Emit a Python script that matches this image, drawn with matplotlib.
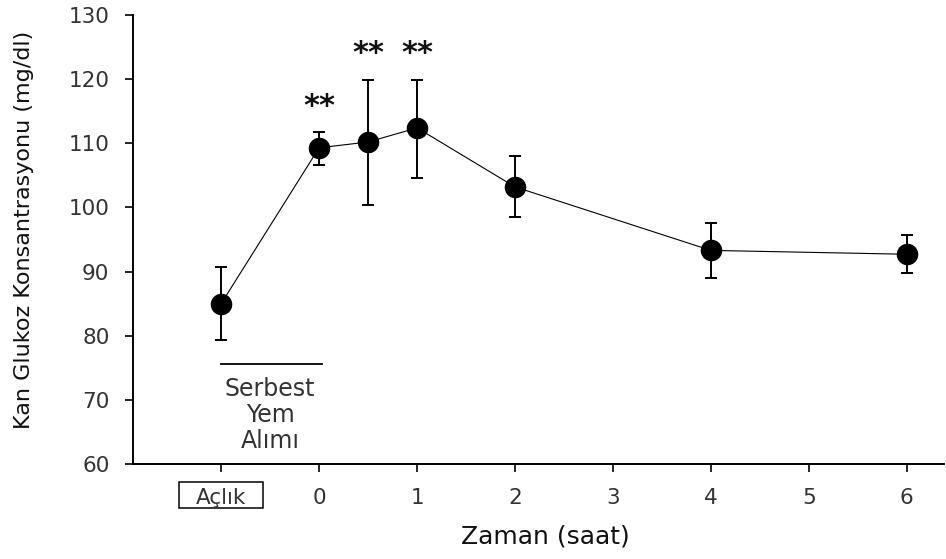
import matplotlib.pyplot as plt
from matplotlib.patches import Rectangle
import numpy as np

# data
times = [-1, 0, 0.5, 1, 2, 4, 6]
glucose = [85.0, 109.3, 110.2, 112.4, 103.2, 93.3, 92.7]
err_low = [79.4, 106.6, 100.4, 104.6, 98.5, 89.0, 89.8]
err_high = [90.7, 111.8, 119.9, 119.9, 108.0, 97.5, 95.7]
star_x = [0, 0.5, 1]
star_y = [115.8, 124.0, 124.0]
xtick_pos = [-1, 0, 1, 2, 3, 4, 5, 6]
xtick_labels = ['Açlık', '0', '1', '2', '3', '4', '5', '6']
yticks = [60, 70, 80, 90, 100, 110, 120, 130]

plt.rcParams['font.family'] = ['DejaVu Sans']

fig = plt.figure(figsize=(9.46, 5.59), dpi=100)
ax = fig.add_axes([133 / 946, 95 / 559, (944 - 133) / 946, (464 - 15) / 559])

glucose = np.array(glucose)
yerr = [glucose - np.array(err_low), np.array(err_high) - glucose]
ax.errorbar(times, glucose, yerr=yerr, fmt='none', ecolor='black',
            elinewidth=1.4, capsize=4.5, capthick=1.4, zorder=2)
ax.plot(times, glucose, color='black', lw=0.8, zorder=3)
ax.plot(times, glucose, 'o', color='black', ms=14.5, zorder=4)

for x, y in zip(star_x, star_y):
    ax.text(x, y, '**', ha='center', va='center', fontsize=22,
            fontweight='bold', color='#111111')

# Serbest Yem Alımı marker
ax.plot([-1, 0.03], [75.6, 75.6], color='black', lw=1.3)
ax.text(-0.5, 73.6, 'Serbest\nYem\nAlımı', ha='center', va='top',
        fontsize=17, color='#333333', linespacing=1.12)

ax.set_xlim(-1.9, 6.38)
ax.set_ylim(60, 130)
ax.set_xticks(xtick_pos)
ax.set_xticklabels(xtick_labels)
ax.set_yticks(yticks)
ax.tick_params(direction='out', length=6, width=1.2, labelsize=15.5,
               labelcolor='#333333', pad=11)
ax.spines['top'].set_visible(False)
ax.spines['right'].set_visible(False)
ax.spines['left'].set_linewidth(1.4)
ax.spines['bottom'].set_linewidth(1.4)

# box around the Açlık tick label
box = Rectangle((-1.43, -0.098), 0.86, 0.058, fill=False, ec='black', lw=1.1,
                transform=ax.get_xaxis_transform(), clip_on=False)
ax.add_patch(box)

ax.set_xlabel('Zaman (saat)', fontsize=18, color='#111111', va='top')
ax.xaxis.set_label_coords(0.508, -0.134)
ax.set_ylabel('Kan Glukoz Konsantrasyonu (mg/dl)', fontsize=16, color='#111111')
ax.yaxis.set_label_coords(-0.122, 0.521)

fig.savefig('out.png', dpi=100)
